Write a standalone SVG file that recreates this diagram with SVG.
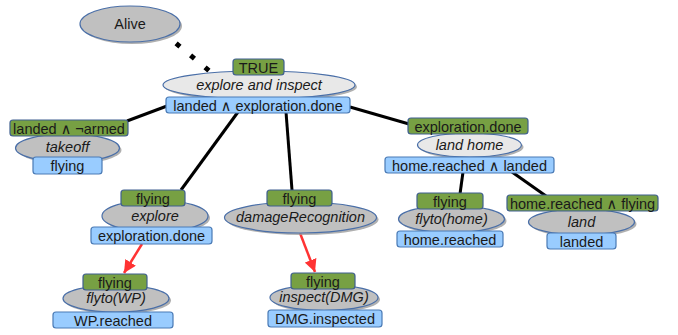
<svg xmlns="http://www.w3.org/2000/svg" width="678" height="335" viewBox="0 0 678 335">
  <defs>
    <style>
      text { font-family: "Liberation Sans", Arial, "DejaVu Sans", sans-serif; font-size: 14.5px; fill: #1a1a1a; text-anchor: middle; }
      .it { font-style: italic; }
      .state { fill: #c0c0c0; stroke: #4a6fa8; stroke-width: 1.2; }
      .state.light { fill: #e8e8e8; }
      .shadow { fill: #9c9c9c; opacity: 0.8; }
      .pre { fill: #77a043; stroke: #3f5f8f; stroke-width: 1.2; }
      .post { fill: #99ccff; stroke: #4a7ab5; stroke-width: 1.2; }
      .edge { stroke: #000; stroke-width: 3; fill: none; }
      .seq { stroke: #ff3333; stroke-width: 2.5; fill: none; marker-end: url(#redArrow); }
      .dotted { stroke: #000; stroke-width: 5; stroke-dasharray: 5 13.8; fill: none; }
    </style>
    <marker id="redArrow" viewBox="0 0 10 10" refX="10" refY="5" markerWidth="5" markerHeight="5" orient="auto">
      <path d="M0,0 L10,5 L0,10 Z" fill="#ff3333"/>
    </marker>
  </defs>

  <!-- connectors -->
  <g id="connectors">
    <line class="dotted" x1="176.1" y1="43.4" x2="211" y2="72.3"/>
    <line class="edge" x1="167" y1="106" x2="127" y2="121"/>
    <line class="edge" x1="238" y1="112" x2="181" y2="190"/>
    <line class="edge" x1="286" y1="112" x2="292" y2="190"/>
    <line class="edge" x1="350" y1="107" x2="409" y2="124"/>
    <line class="edge" x1="463" y1="172" x2="460" y2="194"/>
    <line class="edge" x1="512" y1="172" x2="546" y2="196"/>
    <line class="seq" x1="142" y1="244" x2="124" y2="273"/>
    <line class="seq" x1="300" y1="233" x2="315" y2="272"/>
  </g>

  <g id="alive">
    <ellipse class="shadow" cx="132" cy="26" rx="50" ry="18"/>
    <ellipse class="state" cx="130" cy="24" rx="50" ry="18"/>
    <text x="130" y="29">Alive</text>
  </g>

  <g id="explore-and-inspect">
    <ellipse class="shadow" cx="261" cy="87" rx="96" ry="14"/>
    <ellipse class="state light" cx="259" cy="85" rx="96" ry="14"/>
    <rect class="pre" x="233" y="59" width="51" height="16" rx="3"/>
    <text x="258.5" y="72.5">TRUE</text>
    <text class="it" x="259" y="90">explore and inspect</text>
    <rect class="post" x="166" y="97" width="184" height="16" rx="3"/>
    <text x="258" y="110.5">landed ∧ exploration.done</text>
  </g>

  <g id="takeoff">
    <ellipse class="shadow" cx="69.5" cy="150" rx="52" ry="14"/>
    <ellipse class="state" cx="67.5" cy="148" rx="52" ry="14"/>
    <rect class="pre" x="10" y="120" width="118" height="16" rx="3"/>
    <text x="69" y="133.5">landed ∧ ¬armed</text>
    <text class="it" x="67.5" y="152">takeoff</text>
    <rect class="post" x="33" y="157" width="69" height="17" rx="3"/>
    <text x="67.5" y="170.5">flying</text>
  </g>

  <g id="explore">
    <ellipse class="shadow" cx="157" cy="218" rx="53" ry="16"/>
    <ellipse class="state" cx="155" cy="216" rx="53" ry="16"/>
    <rect class="pre" x="121" y="190" width="64" height="16" rx="3"/>
    <text x="153" y="203.5">flying</text>
    <text class="it" x="155" y="221">explore</text>
    <rect class="post" x="91" y="227" width="121" height="17" rx="3"/>
    <text x="151.5" y="240.5">exploration.done</text>
  </g>

  <g id="damage-recognition">
    <ellipse class="shadow" cx="302.5" cy="219.5" rx="76" ry="15.5"/>
    <ellipse class="state" cx="300.5" cy="217.5" rx="76" ry="15.5"/>
    <rect class="pre" x="267" y="190" width="65" height="16" rx="3"/>
    <text x="299.5" y="203.5">flying</text>
    <text class="it" x="300.5" y="222">damageRecognition</text>
  </g>

  <g id="flyto-wp">
    <ellipse class="shadow" cx="118" cy="300.5" rx="53" ry="13.5"/>
    <ellipse class="state" cx="116" cy="298.5" rx="53" ry="13.5"/>
    <rect class="pre" x="83" y="274" width="64" height="16" rx="3"/>
    <text x="115" y="287.5">flying</text>
    <text class="it" x="116" y="303">flyto(WP)</text>
    <rect class="post" x="53" y="312" width="120" height="16" rx="3"/>
    <text x="113" y="325.5">WP.reached</text>
  </g>

  <g id="inspect-dmg">
    <ellipse class="shadow" cx="326" cy="299.5" rx="54" ry="13"/>
    <ellipse class="state" cx="324" cy="297.5" rx="54" ry="13"/>
    <rect class="pre" x="291" y="273" width="64" height="16" rx="3"/>
    <text x="323" y="286.5">flying</text>
    <text class="it" x="324" y="302">inspect(DMG)</text>
    <rect class="post" x="268" y="310" width="114" height="17" rx="3"/>
    <text x="325" y="323.5">DMG.inspected</text>
  </g>

  <g id="land-home">
    <ellipse class="shadow" cx="471.5" cy="147" rx="52" ry="12"/>
    <ellipse class="state light" cx="469.5" cy="145" rx="52" ry="12"/>
    <rect class="pre" x="408" y="118" width="120" height="16" rx="3"/>
    <text x="468" y="131.5">exploration.done</text>
    <text class="it" x="469.5" y="150">land home</text>
    <rect class="post" x="385" y="157" width="169" height="16" rx="3"/>
    <text x="469.5" y="170.5">home.reached ∧ landed</text>
  </g>

  <g id="flyto-home">
    <ellipse class="shadow" cx="453.5" cy="221" rx="53" ry="13.5"/>
    <ellipse class="state" cx="451.5" cy="219" rx="53" ry="13.5"/>
    <rect class="pre" x="417" y="193" width="66" height="16" rx="3"/>
    <text x="450" y="206.5">flying</text>
    <text class="it" x="451.5" y="224">flyto(home)</text>
    <rect class="post" x="397" y="231" width="106" height="16" rx="3"/>
    <text x="450" y="244.5">home.reached</text>
  </g>

  <g id="land">
    <ellipse class="shadow" cx="583.5" cy="224" rx="53" ry="13"/>
    <ellipse class="state" cx="581.5" cy="222" rx="53" ry="13"/>
    <rect class="pre" x="507" y="195" width="151" height="16" rx="3"/>
    <text x="582.5" y="208.5">home.reached ∧ flying</text>
    <text class="it" x="581.5" y="227">land</text>
    <rect class="post" x="547" y="233" width="69" height="16" rx="3"/>
    <text x="581.5" y="246.5">landed</text>
  </g>
</svg>
